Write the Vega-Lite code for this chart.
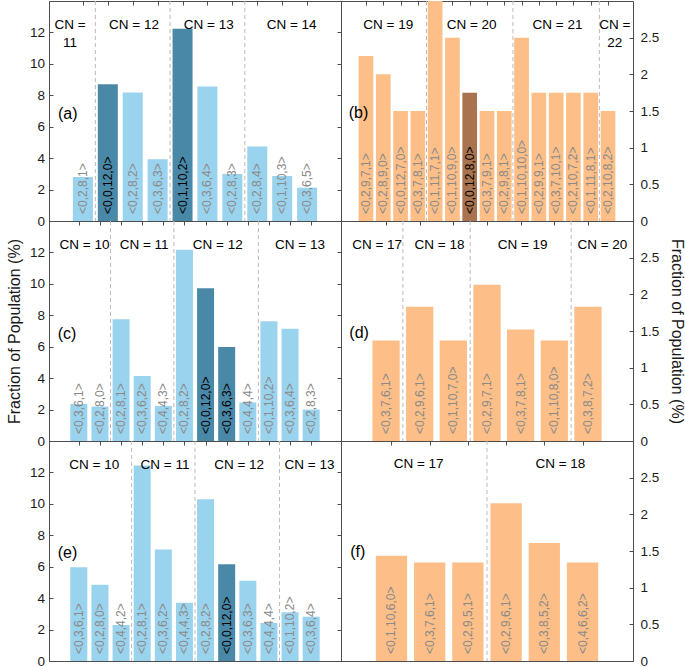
{
"$schema": "https://vega.github.io/schema/vega-lite/v6.json",
"padding": {"left": 5, "top": 0, "right": 0, "bottom": 0},
"config": {
  "font": "Liberation Sans",
  "view": {"stroke": "#4d4d4d", "strokeWidth": 1},
  "axis": {"domain": false, "grid": false, "tickColor": "#4d4d4d", "tickWidth": 1, "labelFont": "Liberation Sans", "labelFontSize": 13.5, "labelColor": "#1a1a1a", "titleFont": "Liberation Sans", "titleFontSize": 16, "titleFontWeight": "normal", "titleColor": "#1a1a1a"},
  "text": {"font": "Liberation Sans"}
},
"datasets": {
  "bars": [
    {"panel": "a", "pos": 1, "label": "<0,2,8,1>", "value": 2.80, "hl": 0},
    {"panel": "a", "pos": 2, "label": "<0,0,12,0>", "value": 8.71, "hl": 1},
    {"panel": "a", "pos": 3, "label": "<0,2,8,2>", "value": 8.18, "hl": 0},
    {"panel": "a", "pos": 4, "label": "<0,3,6,3>", "value": 3.93, "hl": 0},
    {"panel": "a", "pos": 5, "label": "<0,1,10,2>", "value": 12.23, "hl": 1},
    {"panel": "a", "pos": 6, "label": "<0,3,6,4>", "value": 8.56, "hl": 0},
    {"panel": "a", "pos": 7, "label": "<0,2,8,3>", "value": 2.99, "hl": 0},
    {"panel": "a", "pos": 8, "label": "<0,2,8,4>", "value": 4.74, "hl": 0},
    {"panel": "a", "pos": 9, "label": "<0,1,10,3>", "value": 2.87, "hl": 0},
    {"panel": "a", "pos": 10, "label": "<0,3,6,5>", "value": 2.12, "hl": 0},
    {"panel": "b", "pos": 1, "label": "<0,2,9,7,1>", "value": 2.25, "hl": 0},
    {"panel": "b", "pos": 2, "label": "<0,2,8,9,0>", "value": 2.0, "hl": 0},
    {"panel": "b", "pos": 3, "label": "<0,0,12,7,0>", "value": 1.5, "hl": 0},
    {"panel": "b", "pos": 4, "label": "<0,3,7,8,1>", "value": 1.5, "hl": 0},
    {"panel": "b", "pos": 5, "label": "<0,1,11,7,1>", "value": 3.0, "hl": 0},
    {"panel": "b", "pos": 6, "label": "<0,1,10,9,0>", "value": 2.5, "hl": 0},
    {"panel": "b", "pos": 7, "label": "<0,0,12,8,0>", "value": 1.75, "hl": 1},
    {"panel": "b", "pos": 8, "label": "<0,3,7,9,1>", "value": 1.5, "hl": 0},
    {"panel": "b", "pos": 9, "label": "<0,2,9,8,1>", "value": 1.5, "hl": 0},
    {"panel": "b", "pos": 10, "label": "<0,1,10,10,0>", "value": 2.5, "hl": 0},
    {"panel": "b", "pos": 11, "label": "<0,2,9,9,1>", "value": 1.75, "hl": 0},
    {"panel": "b", "pos": 12, "label": "<0,3,7,10,1>", "value": 1.75, "hl": 0},
    {"panel": "b", "pos": 13, "label": "<0,2,10,7,2>", "value": 1.75, "hl": 0},
    {"panel": "b", "pos": 14, "label": "<0,1,11,8,1>", "value": 1.75, "hl": 0},
    {"panel": "b", "pos": 15, "label": "<0,2,10,8,2>", "value": 1.5, "hl": 0},
    {"panel": "c", "pos": 1, "label": "<0,3,6,1>", "value": 2.36, "hl": 0},
    {"panel": "c", "pos": 2, "label": "<0,2,8,0>", "value": 2.19, "hl": 0},
    {"panel": "c", "pos": 3, "label": "<0,2,8,1>", "value": 7.74, "hl": 0},
    {"panel": "c", "pos": 4, "label": "<0,3,6,2>", "value": 4.13, "hl": 0},
    {"panel": "c", "pos": 5, "label": "<0,4,4,3>", "value": 2.23, "hl": 0},
    {"panel": "c", "pos": 6, "label": "<0,2,8,2>", "value": 12.17, "hl": 0},
    {"panel": "c", "pos": 7, "label": "<0,0,12,0>", "value": 9.72, "hl": 1},
    {"panel": "c", "pos": 8, "label": "<0,3,6,3>", "value": 5.98, "hl": 1},
    {"panel": "c", "pos": 9, "label": "<0,4,4,4>", "value": 2.45, "hl": 0},
    {"panel": "c", "pos": 10, "label": "<0,1,10,2>", "value": 7.62, "hl": 0},
    {"panel": "c", "pos": 11, "label": "<0,3,6,4>", "value": 7.15, "hl": 0},
    {"panel": "c", "pos": 12, "label": "<0,2,8,3>", "value": 2.0, "hl": 0},
    {"panel": "d", "pos": 1, "label": "<0,3,7,6,1>", "value": 1.37, "hl": 0},
    {"panel": "d", "pos": 2, "label": "<0,2,9,6,1>", "value": 1.83, "hl": 0},
    {"panel": "d", "pos": 3, "label": "<0,1,10,7,0>", "value": 1.37, "hl": 0},
    {"panel": "d", "pos": 4, "label": "<0,2,9,7,1>", "value": 2.13, "hl": 0},
    {"panel": "d", "pos": 5, "label": "<0,3,7,8,1>", "value": 1.52, "hl": 0},
    {"panel": "d", "pos": 6, "label": "<0,1,10,8,0>", "value": 1.37, "hl": 0},
    {"panel": "d", "pos": 7, "label": "<0,3,8,7,2>", "value": 1.83, "hl": 0},
    {"panel": "e", "pos": 1, "label": "<0,3,6,1>", "value": 5.96, "hl": 0},
    {"panel": "e", "pos": 2, "label": "<0,2,8,0>", "value": 4.85, "hl": 0},
    {"panel": "e", "pos": 3, "label": "<0,4,4,2>", "value": 2.29, "hl": 0},
    {"panel": "e", "pos": 4, "label": "<0,2,8,1>", "value": 12.44, "hl": 0},
    {"panel": "e", "pos": 5, "label": "<0,3,6,2>", "value": 7.10, "hl": 0},
    {"panel": "e", "pos": 6, "label": "<0,4,4,3>", "value": 3.71, "hl": 0},
    {"panel": "e", "pos": 7, "label": "<0,2,8,2>", "value": 10.30, "hl": 0},
    {"panel": "e", "pos": 8, "label": "<0,0,12,0>", "value": 6.15, "hl": 1},
    {"panel": "e", "pos": 9, "label": "<0,3,6,3>", "value": 5.11, "hl": 0},
    {"panel": "e", "pos": 10, "label": "<0,4,4,4>", "value": 2.42, "hl": 0},
    {"panel": "e", "pos": 11, "label": "<0,1,10,2>", "value": 3.10, "hl": 0},
    {"panel": "e", "pos": 12, "label": "<0,3,6,4>", "value": 2.82, "hl": 0},
    {"panel": "f", "pos": 1, "label": "<0,1,10,6,0>", "value": 1.435, "hl": 0},
    {"panel": "f", "pos": 2, "label": "<0,3,7,6,1>", "value": 1.344, "hl": 0},
    {"panel": "f", "pos": 3, "label": "<0,2,9,5,1>", "value": 1.344, "hl": 0},
    {"panel": "f", "pos": 4, "label": "<0,2,9,6,1>", "value": 2.15, "hl": 0},
    {"panel": "f", "pos": 5, "label": "<0,3,8,5,2>", "value": 1.61, "hl": 0},
    {"panel": "f", "pos": 6, "label": "<0,4,6,6,2>", "value": 1.344, "hl": 0}
  ],
  "groups": [
    {"panel": "a", "cn": "CN =\n11", "mid": 0.48, "sep": null},
    {"panel": "a", "cn": "CN = 12", "mid": 3.05, "sep": 1.5},
    {"panel": "a", "cn": "CN = 13", "mid": 6.05, "sep": 4.5},
    {"panel": "a", "cn": "CN = 14", "mid": 9.38, "sep": 7.5},
    {"panel": "b", "cn": "CN = 19", "mid": 2.29, "sep": null},
    {"panel": "b", "cn": "CN = 20", "mid": 7.11, "sep": 4.5},
    {"panel": "b", "cn": "CN = 21", "mid": 12.08, "sep": 9.5},
    {"panel": "b", "cn": "CN =\n22", "mid": 15.39, "sep": 14.5},
    {"panel": "c", "cn": "CN = 10", "mid": 1.27, "sep": null},
    {"panel": "c", "cn": "CN = 11", "mid": 4.09, "sep": 2.5},
    {"panel": "c", "cn": "CN = 12", "mid": 7.58, "sep": 5.5},
    {"panel": "c", "cn": "CN = 13", "mid": 11.47, "sep": 9.5},
    {"panel": "d", "cn": "CN = 17", "mid": 0.735, "sep": null},
    {"panel": "d", "cn": "CN = 18", "mid": 2.59, "sep": 1.5},
    {"panel": "d", "cn": "CN = 19", "mid": 5.06, "sep": 3.5},
    {"panel": "d", "cn": "CN = 20", "mid": 7.43, "sep": 6.5},
    {"panel": "e", "cn": "CN = 10", "mid": 1.73, "sep": null},
    {"panel": "e", "cn": "CN = 11", "mid": 5.08, "sep": 3.5},
    {"panel": "e", "cn": "CN = 12", "mid": 8.59, "sep": 6.5},
    {"panel": "e", "cn": "CN = 13", "mid": 11.92, "sep": 10.5},
    {"panel": "f", "cn": "CN = 17", "mid": 1.71, "sep": null},
    {"panel": "f", "cn": "CN = 18", "mid": 5.42, "sep": 3.5}
  ]
},
"columns": 2,
"spacing": 0,
"bounds": "flush",
"concat": [
{
 "width": 292, "height": 220,
 "layer": [
  {"data": {"name": "groups"}, "transform": [{"filter": "datum.panel == 'a' && datum.sep != null"}],
   "mark": {"type": "rule", "color": "#c4b8b8", "strokeDash": [4, 3], "strokeWidth": 1},
   "encoding": {"x": {"field": "sep", "type": "quantitative", "scale": {"domain": [-0.16, 11.16], "nice": false, "zero": false}, "axis": {"orient": "top", "title": null, "labels": false, "values": [1,2,3,4,5,6,7,8,9,10], "tickSize": -4}}}},
  {"data": {"name": "bars"}, "transform": [{"filter": "datum.panel == 'a'"}],
   "mark": {"type": "bar", "width": 20, "clip": true},
   "encoding": {
     "x": {"field": "pos", "type": "quantitative", "scale": {"domain": [-0.16, 11.16], "nice": false, "zero": false}, "axis": {"orient": "bottom", "title": null, "labels": false, "values": [1,2,3,4,5,6,7,8,9,10], "tickSize": -4}},
     "y": {"field": "value", "type": "quantitative", "scale": {"domain": [0, 14], "nice": false}, "axis": {"orient": "left", "title": null, "values": [0,2,4,6,8,10,12], "tickSize": -4, "labelPadding": 8.5}},
     "color": {"condition": {"test": "datum.hl == 1", "value": "#4A88A8"}, "value": "#9AD3EE"}}},
  {"data": {"name": "bars"}, "transform": [{"filter": "datum.panel == 'a'"}],
   "mark": {"type": "text", "angle": 270, "align": "left", "baseline": "middle", "dx": 7, "fontSize": 12},
   "encoding": {
     "x": {"field": "pos", "type": "quantitative", "scale": {"domain": [-0.16, 11.16], "nice": false, "zero": false}, "axis": null},
     "y": {"datum": 0, "type": "quantitative", "scale": {"domain": [0, 14], "nice": false}, "axis": {"orient": "right", "title": null, "labels": false, "values": [0,2,4,6,8,10,12], "tickSize": -4}},
     "text": {"field": "label"},
     "color": {"condition": {"test": "datum.hl == 1", "value": "#000000"}, "value": "#8a8a8a"}}},
  {"data": {"name": "groups"}, "transform": [{"filter": "datum.panel == 'a'"}],
   "mark": {"type": "text", "align": "center", "baseline": "middle", "fontSize": 13.5, "lineBreak": "\n", "lineHeight": 18, "color": "#000000"},
   "encoding": {
     "x": {"field": "mid", "type": "quantitative", "scale": {"domain": [-0.16, 11.16], "nice": false, "zero": false}, "axis": null},
     "y": {"datum": 12.48, "type": "quantitative", "scale": {"domain": [0, 14], "nice": false}, "axis": null},
     "text": {"field": "cn"}}},
  {"data": {"values": [{"t": "(a)"}]},
   "mark": {"type": "text", "align": "left", "baseline": "middle", "fontSize": 16, "color": "#000000"},
   "encoding": {
     "x": {"datum": 0, "type": "quantitative", "scale": {"domain": [-0.16, 11.16], "nice": false, "zero": false}, "axis": null},
     "y": {"datum": 6.8, "type": "quantitative", "scale": {"domain": [0, 14], "nice": false}, "axis": null},
     "text": {"field": "t"}}}
 ]
},
{
 "width": 292, "height": 220,
 "layer": [
  {"data": {"name": "groups"}, "transform": [{"filter": "datum.panel == 'b' && datum.sep != null"}],
   "mark": {"type": "rule", "color": "#c4b8b8", "strokeDash": [4, 3], "strokeWidth": 1},
   "encoding": {"x": {"field": "sep", "type": "quantitative", "scale": {"domain": [-0.156, 16.156], "nice": false, "zero": false}, "axis": {"orient": "top", "title": null, "labels": false, "values": [1,2,3,4,5,6,7,8,9,10,11,12,13,14,15], "tickSize": -4}}}},
  {"data": {"name": "bars"}, "transform": [{"filter": "datum.panel == 'b'"}],
   "mark": {"type": "bar", "width": 14.7, "clip": true},
   "encoding": {
     "x": {"field": "pos", "type": "quantitative", "scale": {"domain": [-0.156, 16.156], "nice": false, "zero": false}, "axis": {"orient": "bottom", "title": null, "labels": false, "values": [1,2,3,4,5,6,7,8,9,10,11,12,13,14,15], "tickSize": -4}},
     "y": {"field": "value", "type": "quantitative", "scale": {"domain": [0, 3], "nice": false}, "axis": {"orient": "right", "title": null, "values": [0,0.5,1,1.5,2,2.5], "format": "~g", "tickSize": -4, "labelPadding": 11}},
     "color": {"condition": {"test": "datum.hl == 1", "value": "#A8734E"}, "value": "#FDBF87"}}},
  {"data": {"name": "bars"}, "transform": [{"filter": "datum.panel == 'b'"}],
   "mark": {"type": "text", "angle": 270, "align": "left", "baseline": "middle", "dx": 7, "fontSize": 12},
   "encoding": {
     "x": {"field": "pos", "type": "quantitative", "scale": {"domain": [-0.156, 16.156], "nice": false, "zero": false}, "axis": null},
     "y": {"datum": 0, "type": "quantitative", "scale": {"domain": [0, 3], "nice": false}, "axis": {"orient": "left", "title": null, "labels": false, "ticks": false}},
     "text": {"field": "label"},
     "color": {"condition": {"test": "datum.hl == 1", "value": "#000000"}, "value": "#8a8a8a"}}},
  {"data": {"name": "groups"}, "transform": [{"filter": "datum.panel == 'b'"}],
   "mark": {"type": "text", "align": "center", "baseline": "middle", "fontSize": 13.5, "lineBreak": "\n", "lineHeight": 18, "color": "#000000"},
   "encoding": {
     "x": {"field": "mid", "type": "quantitative", "scale": {"domain": [-0.156, 16.156], "nice": false, "zero": false}, "axis": null},
     "y": {"datum": 2.667, "type": "quantitative", "scale": {"domain": [0, 3], "nice": false}, "axis": null},
     "text": {"field": "cn"}}},
  {"data": {"values": [{"t": "(b)"}]},
   "mark": {"type": "text", "align": "left", "baseline": "middle", "fontSize": 16, "color": "#000000"},
   "encoding": {
     "x": {"datum": 0, "type": "quantitative", "scale": {"domain": [-0.156, 16.156], "nice": false, "zero": false}, "axis": null},
     "y": {"datum": 1.47, "type": "quantitative", "scale": {"domain": [0, 3], "nice": false}, "axis": null},
     "text": {"field": "t"}}}
 ]
},
{
 "width": 292, "height": 220,
 "layer": [
  {"data": {"name": "groups"}, "transform": [{"filter": "datum.panel == 'c' && datum.sep != null"}],
   "mark": {"type": "rule", "color": "#c4b8b8", "strokeDash": [4, 3], "strokeWidth": 1},
   "encoding": {"x": {"field": "sep", "type": "quantitative", "scale": {"domain": [-0.175, 13.175], "nice": false, "zero": false}, "axis": {"orient": "top", "title": null, "labels": false, "values": [1,2,3,4,5,6,7,8,9,10,11,12], "tickSize": -4}}}},
  {"data": {"name": "bars"}, "transform": [{"filter": "datum.panel == 'c'"}],
   "mark": {"type": "bar", "width": 17, "clip": true},
   "encoding": {
     "x": {"field": "pos", "type": "quantitative", "scale": {"domain": [-0.175, 13.175], "nice": false, "zero": false}, "axis": {"orient": "bottom", "title": null, "labels": false, "values": [1,2,3,4,5,6,7,8,9,10,11,12], "tickSize": -4}},
     "y": {"field": "value", "type": "quantitative", "scale": {"domain": [0, 14], "nice": false}, "axis": {"orient": "left", "title": "Fraction of Population (%)", "titlePadding": 7, "values": [0,2,4,6,8,10,12], "tickSize": -4, "labelPadding": 8.5}},
     "color": {"condition": {"test": "datum.hl == 1", "value": "#4A88A8"}, "value": "#9AD3EE"}}},
  {"data": {"name": "bars"}, "transform": [{"filter": "datum.panel == 'c'"}],
   "mark": {"type": "text", "angle": 270, "align": "left", "baseline": "middle", "dx": 7, "fontSize": 12},
   "encoding": {
     "x": {"field": "pos", "type": "quantitative", "scale": {"domain": [-0.175, 13.175], "nice": false, "zero": false}, "axis": null},
     "y": {"datum": 0, "type": "quantitative", "scale": {"domain": [0, 14], "nice": false}, "axis": {"orient": "right", "title": null, "labels": false, "values": [0,2,4,6,8,10,12], "tickSize": -4}},
     "text": {"field": "label"},
     "color": {"condition": {"test": "datum.hl == 1", "value": "#000000"}, "value": "#8a8a8a"}}},
  {"data": {"name": "groups"}, "transform": [{"filter": "datum.panel == 'c'"}],
   "mark": {"type": "text", "align": "center", "baseline": "middle", "fontSize": 13.5, "lineBreak": "\n", "lineHeight": 18, "color": "#000000"},
   "encoding": {
     "x": {"field": "mid", "type": "quantitative", "scale": {"domain": [-0.175, 13.175], "nice": false, "zero": false}, "axis": null},
     "y": {"datum": 12.48, "type": "quantitative", "scale": {"domain": [0, 14], "nice": false}, "axis": null},
     "text": {"field": "cn"}}},
  {"data": {"values": [{"t": "(c)"}]},
   "mark": {"type": "text", "align": "left", "baseline": "middle", "fontSize": 16, "color": "#000000"},
   "encoding": {
     "x": {"datum": 0, "type": "quantitative", "scale": {"domain": [-0.175, 13.175], "nice": false, "zero": false}, "axis": null},
     "y": {"datum": 6.8, "type": "quantitative", "scale": {"domain": [0, 14], "nice": false}, "axis": null},
     "text": {"field": "t"}}}
 ]
},
{
 "width": 292, "height": 220,
 "layer": [
  {"data": {"name": "groups"}, "transform": [{"filter": "datum.panel == 'd' && datum.sep != null"}],
   "mark": {"type": "rule", "color": "#c4b8b8", "strokeDash": [4, 3], "strokeWidth": 1},
   "encoding": {"x": {"field": "sep", "type": "quantitative", "scale": {"domain": [-0.19, 8.19], "nice": false, "zero": false}, "axis": {"orient": "top", "title": null, "labels": false, "values": [1,2,3,4,5,6,7], "tickSize": -4}}}},
  {"data": {"name": "bars"}, "transform": [{"filter": "datum.panel == 'd'"}],
   "mark": {"type": "bar", "width": 27.3, "clip": true},
   "encoding": {
     "x": {"field": "pos", "type": "quantitative", "scale": {"domain": [-0.19, 8.19], "nice": false, "zero": false}, "axis": {"orient": "bottom", "title": null, "labels": false, "values": [1,2,3,4,5,6,7], "tickSize": -4}},
     "y": {"field": "value", "type": "quantitative", "scale": {"domain": [0, 3], "nice": false}, "axis": {"orient": "right", "title": "Fraction of Population (%)", "titlePadding": 10, "values": [0,0.5,1,1.5,2,2.5], "format": "~g", "tickSize": -4, "labelPadding": 11}},
     "color": {"condition": {"test": "datum.hl == 1", "value": "#A8734E"}, "value": "#FDBF87"}}},
  {"data": {"name": "bars"}, "transform": [{"filter": "datum.panel == 'd'"}],
   "mark": {"type": "text", "angle": 270, "align": "left", "baseline": "middle", "dx": 7, "fontSize": 12},
   "encoding": {
     "x": {"field": "pos", "type": "quantitative", "scale": {"domain": [-0.19, 8.19], "nice": false, "zero": false}, "axis": null},
     "y": {"datum": 0, "type": "quantitative", "scale": {"domain": [0, 3], "nice": false}, "axis": {"orient": "left", "title": null, "labels": false, "ticks": false}},
     "text": {"field": "label"},
     "color": {"condition": {"test": "datum.hl == 1", "value": "#000000"}, "value": "#8a8a8a"}}},
  {"data": {"name": "groups"}, "transform": [{"filter": "datum.panel == 'd'"}],
   "mark": {"type": "text", "align": "center", "baseline": "middle", "fontSize": 13.5, "lineBreak": "\n", "lineHeight": 18, "color": "#000000"},
   "encoding": {
     "x": {"field": "mid", "type": "quantitative", "scale": {"domain": [-0.19, 8.19], "nice": false, "zero": false}, "axis": null},
     "y": {"datum": 2.667, "type": "quantitative", "scale": {"domain": [0, 3], "nice": false}, "axis": null},
     "text": {"field": "cn"}}},
  {"data": {"values": [{"t": "(d)"}]},
   "mark": {"type": "text", "align": "left", "baseline": "middle", "fontSize": 16, "color": "#000000"},
   "encoding": {
     "x": {"datum": -0.09, "type": "quantitative", "scale": {"domain": [-0.19, 8.19], "nice": false, "zero": false}, "axis": null},
     "y": {"datum": 1.47, "type": "quantitative", "scale": {"domain": [0, 3], "nice": false}, "axis": null},
     "text": {"field": "t"}}}
 ]
},
{
 "width": 292, "height": 220,
 "layer": [
  {"data": {"name": "groups"}, "transform": [{"filter": "datum.panel == 'e' && datum.sep != null"}],
   "mark": {"type": "rule", "color": "#c4b8b8", "strokeDash": [4, 3], "strokeWidth": 1},
   "encoding": {"x": {"field": "sep", "type": "quantitative", "scale": {"domain": [-0.175, 13.175], "nice": false, "zero": false}, "axis": {"orient": "top", "title": null, "labels": false, "values": [1,2,3,4,5,6,7,8,9,10,11,12], "tickSize": -4}}}},
  {"data": {"name": "bars"}, "transform": [{"filter": "datum.panel == 'e'"}],
   "mark": {"type": "bar", "width": 17, "clip": true},
   "encoding": {
     "x": {"field": "pos", "type": "quantitative", "scale": {"domain": [-0.175, 13.175], "nice": false, "zero": false}, "axis": {"orient": "bottom", "title": null, "labels": false, "values": [1,2,3,4,5,6,7,8,9,10,11,12], "tickSize": -4}},
     "y": {"field": "value", "type": "quantitative", "scale": {"domain": [0, 14], "nice": false}, "axis": {"orient": "left", "title": null, "values": [0,2,4,6,8,10,12], "tickSize": -4, "labelPadding": 8.5}},
     "color": {"condition": {"test": "datum.hl == 1", "value": "#4A88A8"}, "value": "#9AD3EE"}}},
  {"data": {"name": "bars"}, "transform": [{"filter": "datum.panel == 'e'"}],
   "mark": {"type": "text", "angle": 270, "align": "left", "baseline": "middle", "dx": 7, "fontSize": 12},
   "encoding": {
     "x": {"field": "pos", "type": "quantitative", "scale": {"domain": [-0.175, 13.175], "nice": false, "zero": false}, "axis": null},
     "y": {"datum": 0, "type": "quantitative", "scale": {"domain": [0, 14], "nice": false}, "axis": {"orient": "right", "title": null, "labels": false, "values": [0,2,4,6,8,10,12], "tickSize": -4}},
     "text": {"field": "label"},
     "color": {"condition": {"test": "datum.hl == 1", "value": "#000000"}, "value": "#8a8a8a"}}},
  {"data": {"name": "groups"}, "transform": [{"filter": "datum.panel == 'e'"}],
   "mark": {"type": "text", "align": "center", "baseline": "middle", "fontSize": 13.5, "lineBreak": "\n", "lineHeight": 18, "color": "#000000"},
   "encoding": {
     "x": {"field": "mid", "type": "quantitative", "scale": {"domain": [-0.175, 13.175], "nice": false, "zero": false}, "axis": null},
     "y": {"datum": 12.48, "type": "quantitative", "scale": {"domain": [0, 14], "nice": false}, "axis": null},
     "text": {"field": "cn"}}},
  {"data": {"values": [{"t": "(e)"}]},
   "mark": {"type": "text", "align": "left", "baseline": "middle", "fontSize": 16, "color": "#000000"},
   "encoding": {
     "x": {"datum": 0, "type": "quantitative", "scale": {"domain": [-0.175, 13.175], "nice": false, "zero": false}, "axis": null},
     "y": {"datum": 6.85, "type": "quantitative", "scale": {"domain": [0, 14], "nice": false}, "axis": null},
     "text": {"field": "t"}}}
 ]
},
{
 "width": 292, "height": 220,
 "layer": [
  {"data": {"name": "groups"}, "transform": [{"filter": "datum.panel == 'f' && datum.sep != null"}],
   "mark": {"type": "rule", "color": "#c4b8b8", "strokeDash": [4, 3], "strokeWidth": 1},
   "encoding": {"x": {"field": "sep", "type": "quantitative", "scale": {"domain": [-0.19, 7.19], "nice": false, "zero": false}, "axis": {"orient": "top", "title": null, "labels": false, "values": [1,2,3,4,5,6], "tickSize": -4}}}},
  {"data": {"name": "bars"}, "transform": [{"filter": "datum.panel == 'f'"}],
   "mark": {"type": "bar", "width": 31.3, "clip": true},
   "encoding": {
     "x": {"field": "pos", "type": "quantitative", "scale": {"domain": [-0.19, 7.19], "nice": false, "zero": false}, "axis": {"orient": "bottom", "title": null, "labels": false, "values": [1,2,3,4,5,6], "tickSize": -4}},
     "y": {"field": "value", "type": "quantitative", "scale": {"domain": [0, 3], "nice": false}, "axis": {"orient": "right", "title": null, "values": [0,0.5,1,1.5,2,2.5], "format": "~g", "tickSize": -4, "labelPadding": 11}},
     "color": {"condition": {"test": "datum.hl == 1", "value": "#A8734E"}, "value": "#FDBF87"}}},
  {"data": {"name": "bars"}, "transform": [{"filter": "datum.panel == 'f'"}],
   "mark": {"type": "text", "angle": 270, "align": "left", "baseline": "middle", "dx": 7, "fontSize": 12},
   "encoding": {
     "x": {"field": "pos", "type": "quantitative", "scale": {"domain": [-0.19, 7.19], "nice": false, "zero": false}, "axis": null},
     "y": {"datum": 0, "type": "quantitative", "scale": {"domain": [0, 3], "nice": false}, "axis": {"orient": "left", "title": null, "labels": false, "ticks": false}},
     "text": {"field": "label"},
     "color": {"condition": {"test": "datum.hl == 1", "value": "#000000"}, "value": "#8a8a8a"}}},
  {"data": {"name": "groups"}, "transform": [{"filter": "datum.panel == 'f'"}],
   "mark": {"type": "text", "align": "center", "baseline": "middle", "fontSize": 13.5, "lineBreak": "\n", "lineHeight": 18, "color": "#000000"},
   "encoding": {
     "x": {"field": "mid", "type": "quantitative", "scale": {"domain": [-0.19, 7.19], "nice": false, "zero": false}, "axis": null},
     "y": {"datum": 2.68, "type": "quantitative", "scale": {"domain": [0, 3], "nice": false}, "axis": null},
     "text": {"field": "cn"}}},
  {"data": {"values": [{"t": "(f)"}]},
   "mark": {"type": "text", "align": "left", "baseline": "middle", "fontSize": 16, "color": "#000000"},
   "encoding": {
     "x": {"datum": -0.08, "type": "quantitative", "scale": {"domain": [-0.19, 7.19], "nice": false, "zero": false}, "axis": null},
     "y": {"datum": 1.48, "type": "quantitative", "scale": {"domain": [0, 3], "nice": false}, "axis": null},
     "text": {"field": "t"}}}
 ]
}
]
}
